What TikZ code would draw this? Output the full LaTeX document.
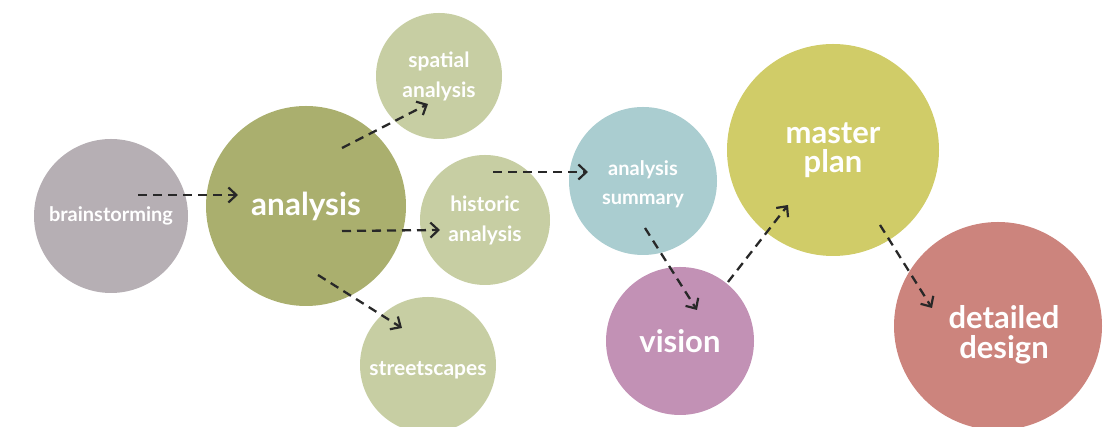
\documentclass[tikz,border=0pt]{standalone}
\usepackage{fontspec}
\setmainfont{Lato}
\usetikzlibrary{arrows.meta}
\definecolor{cgray}{RGB}{182,175,180}
\definecolor{colive}{RGB}{170,175,110}
\definecolor{csage}{RGB}{199,206,163}
\definecolor{cteal}{RGB}{170,205,208}
\definecolor{cmauve}{RGB}{194,145,181}
\definecolor{cyell}{RGB}{208,204,104}
\definecolor{csalm}{RGB}{204,132,125}
\definecolor{cdash}{RGB}{40,40,40}
\newcommand{\stsize}[2]{\fontsize{#1pt}{#2pt}\selectfont\bfseries}

\begin{document}
\begin{tikzpicture}[x=1pt,y=1pt,line join=round,
  every node/.style={inner sep=0pt,outer sep=0pt},
  stage/.style={circle,fill=#1,text=white,align=center},
  flow/.style={draw=cdash,line width=2.3pt,dash pattern=on 9pt off 6pt,
    -{Straight Barb[length=8pt,width=15pt,line width=2.2pt]}}]
  % 画布 1106×427，y 向上
  \path[use as bounding box] (0,0) rectangle (1106,427);
  % ---- 各阶段圆：圆心、直径；文字略有偏移的用 label ----
  \node[stage=cgray, minimum size=154pt,font=\stsize{20}{26}] (brain) at (111,211) {brainstorming};
  \node[stage=colive,minimum size=200pt,font=\stsize{31.5}{34}] (ana)  at (306,221) {analysis};
  \node[stage=csage, minimum size=126pt,font=\stsize{21}{30}] (spa)   at (439,351) {spatial\\analysis};
  \node[stage=csage, minimum size=130pt,font=\stsize{21}{30}] (his)   at (485,207) {historic\\analysis};
  \node[stage=csage, minimum size=136pt,
        label={[shift={(0,-5)},text=white,font=\stsize{21}{26}]center:streetscapes}] (str) at (428, 62) {};
  \node[stage=cteal, minimum size=148pt,
        label={[shift={(0,-3)},text=white,align=center,font=\stsize{20}{29}]center:analysis\\summary}] (summ) at (643,246) {};
  \node[stage=cmauve,minimum size=148pt,font=\stsize{31}{34}] (vis)   at (680, 86) {vision};
  \node[stage=cyell, minimum size=212pt,font=\stsize{31}{29}] (mast)  at (833,277) {master\\plan};
  \node[stage=csalm, minimum size=208pt,
        label={[shift={(6,-9)},text=white,align=center,font=\stsize{31}{30}]center:detailed\\design}] (det) at (998,101) {};
  % ---- 虚线箭头端点（起点 s，终点 e）----
  \coordinate (f1s) at (138,232); \coordinate (f1e) at (238,232);
  \coordinate (f2s) at (342,279); \coordinate (f2e) at (428,323);
  \coordinate (f3s) at (342,196); \coordinate (f3e) at (440,197);
  \coordinate (f4s) at (318,152); \coordinate (f4e) at (402, 99);
  \coordinate (f5s) at (493,255); \coordinate (f5e) at (588,255);
  \coordinate (f6s) at (645,199); \coordinate (f6e) at (697,117);
  \coordinate (f7s) at (728,145); \coordinate (f7e) at (788,222);
  \coordinate (f8s) at (880,202); \coordinate (f8e) at (932,119);
  \foreach \i in {1,...,8} \draw[flow] (f\i s) -- (f\i e);
\end{tikzpicture}
\end{document}
